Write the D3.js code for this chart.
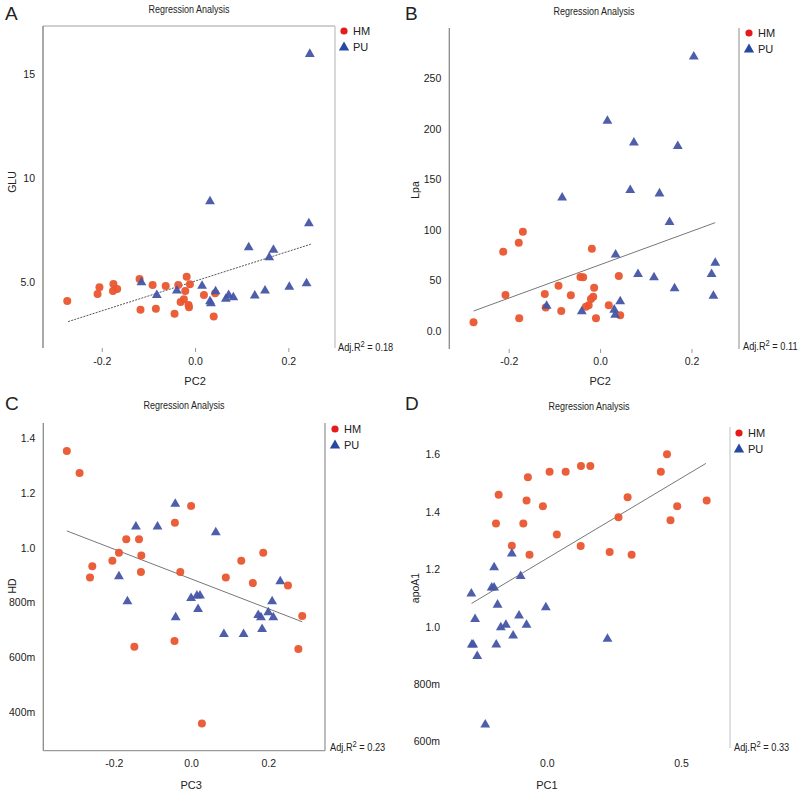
<!DOCTYPE html>
<html><head><meta charset="utf-8">
<script src="https://cdn.jsdelivr.net/npm/d3@7"></script>
<style>body{margin:0;background:#fff}svg{display:block}text{font-family:"Liberation Sans",Arial,sans-serif;fill:#222}</style>
</head><body>
<svg id="c" width="800" height="793"></svg>
<script>
// ---------- DATA ----------
const groups = ["HM", "PU"];
// Panel A: PC2 vs GLU
const aHM_x = [-0.274,-0.209,-0.205,-0.175,-0.176,-0.167,-0.119,-0.117,-0.091,-0.084,-0.063,-0.044,-0.036,-0.031,-0.024,-0.021,-0.018,-0.014,-0.013,-0.011,0.019,0.040,0.043];
const aHM_y = [4.07,4.41,4.73,4.89,4.55,4.65,5.13,3.65,4.84,3.70,4.79,3.46,4.84,4.02,4.15,4.55,5.23,3.88,3.77,4.87,4.36,3.32,4.44];
const aPU_x = [0.246,0.032,0.244,0.115,0.168,0.159,-0.115,-0.082,-0.039,0.015,0.044,0.032,0.034,0.066,0.072,0.082,0.128,0.150,0.202,0.239];
const aPU_y = [15.98,8.89,7.84,6.68,6.56,6.20,5.00,4.39,4.60,4.83,4.57,4.09,3.99,4.21,4.39,4.28,4.36,4.60,4.79,4.95];
const aFit = [-0.272, 3.08, 0.248, 6.80];
const aXTicks = [-0.2, 0.0, 0.2], aXLabels = ["-0.2","0.0","0.2"];
const aYTicks = [5, 10, 15], aYLabels = ["5.0","10","15"];
// Panel B: PC2 vs Lpa
const bHM_x = [-0.277,-0.212,-0.207,-0.178,-0.169,-0.177,-0.121,-0.119,-0.091,-0.085,-0.064,-0.043,-0.037,-0.018,-0.013,-0.015,-0.020,-0.025,-0.031,-0.009,0.019,0.041,0.044];
const bHM_y = [8.3,78.2,35.3,87.1,98,12.3,36.3,23.1,44.6,19.5,35,53.2,52.9,81.2,42.6,33.7,31.4,25.1,23.8,12.3,25.1,54.2,15.2];
const bPU_x = [0.205,0.016,0.074,0.170,-0.083,0.066,0.130,0.152,0.034,0.252,0.083,0.118,0.244,0.163,0.248,0.044,-0.117,0.031,-0.040,0.033];
const bPU_y = [272,208.6,187,183.5,132.5,140,136.6,108.3,76,68,56.8,53.5,56.8,42.6,35.3,29.7,25.4,21.5,19.8,16.5];
const bFit = [-0.277, 19.5, 0.252, 107];
const bXTicks = [-0.2, 0.0, 0.2], bXLabels = ["-0.2","0.0","0.2"];
const bYTicks = [0, 50, 100, 150, 200, 250], bYLabels = ["0.0","50","100","150","200","250"];
// Panel C: PC3 vs HD
const cHM_x = [-0.322,-0.289,-0.262,-0.256,-0.204,-0.187,-0.168,-0.135,-0.129,-0.130,-0.042,-0.028,0.000,0.090,0.130,0.160,0.187,0.251,0.288,0.278,-0.147,-0.043,0.028];
const cHM_y = [1.352,1.272,0.891,0.932,0.952,0.981,1.031,1.031,0.971,0.911,1.091,0.911,1.152,0.891,0.952,0.871,0.981,0.862,0.751,0.631,0.639,0.660,0.360];
const cPU_x = [-0.041,-0.143,-0.087,0.064,-0.187,0.231,-0.165,0.000,0.015,0.023,0.018,-0.040,0.210,0.174,0.181,0.200,0.213,0.184,0.085,0.136];
const cPU_y = [1.162,1.079,1.079,1.058,0.898,0.880,0.807,0.819,0.828,0.828,0.779,0.749,0.807,0.757,0.749,0.767,0.749,0.706,0.688,0.688];
const cFit = [-0.322, 1.061, 0.288, 0.730];
const cXTicks = [-0.2, 0.0, 0.2], cXLabels = ["-0.2","0.0","0.2"];
const cYTicks = [0.4, 0.6, 0.8, 1.0, 1.2, 1.4], cYLabels = ["400m","600m","800m","1.0","1.2","1.4"];
// Panel D: PC1 vs apoA1
const dHM_x = [0.448,0.425,0.162,0.127,0.070,0.010,-0.071,-0.180,-0.076,-0.015,0.301,0.596,0.486,0.461,0.267,-0.190,-0.088,0.037,-0.131,0.126,-0.065,0.234,0.316];
const dHM_y = [1.601,1.540,1.560,1.560,1.540,1.540,1.521,1.460,1.440,1.420,1.451,1.440,1.420,1.371,1.381,1.360,1.360,1.321,1.282,1.281,1.251,1.260,1.251];
const dPU_x = [-0.131,-0.197,-0.098,-0.282,-0.206,-0.197,-0.184,-0.004,-0.268,-0.104,-0.153,-0.172,-0.076,-0.126,-0.280,-0.275,-0.189,-0.260,0.226,-0.230];
const dPU_y = [1.257,1.209,1.179,1.118,1.139,1.139,1.079,1.070,1.029,1.041,1.009,1.000,1.009,0.971,0.940,0.940,0.940,0.900,0.960,0.661];
const dFit = [-0.281, 1.081, 0.593, 1.569];
const dXTicks = [0.0, 0.5], dXLabels = ["0.0","0.5"];
const dYTicks = [0.6, 0.8, 1.0, 1.2, 1.4, 1.6], dYLabels = ["600m","800m","1.0","1.2","1.4","1.6"];
const r2Labels = ["0.18", "0.11", "0.23", "0.33"];
const xTitles = ["PC2", "PC2", "PC3", "PC1"];
const yTitles = ["GLU", "Lpa", "HD", "apoA1"];
const letters = ["A", "B", "C", "D"];
const chartTitle = "Regression Analysis";

// ---------- LAYOUT ----------
const svg = d3.select("#c");
const HM_COLOR = "#e9552f", PU_COLOR = "#4455a6";
const panels = [
  {ox:0, oy:0, L:43, R:335, T:26, B:348, xd:[-0.326,0.300], yd:[1.81,17.29],
   hx:aHM_x, hy:aHM_y, px:aPU_x, py:aPU_y, fit:aFit, xt:aXTicks, xl:aXLabels, yt:aYTicks, yl:aYLabels,
   frame:{left:"#7a7a7a", top:"#a0a0a0", right:"#c4c4c4"}, dash:"2,1.2", xtick:4,
   titleX:189, titleY:13, legX:344, legY:31, yTitleX:12, yTitleY:182, xTitleY:385, r2X:338, r2Y:351, tickY:366},
  {ox:400, oy:0, L:449.3, R:739, T:28, B:349, xd:[-0.330,0.304], yd:[-18.1,299.7],
   hx:bHM_x, hy:bHM_y, px:bPU_x, py:bPU_y, fit:bFit, xt:bXTicks, xl:bXLabels, yt:bYTicks, yl:bYLabels,
   frame:{left:"#8a8a8a", right:"#a8a8a8"}, dash:null, xtick:4,
   titleX:594, titleY:15, legX:749, legY:33, yTitleX:415, yTitleY:190, xTitleY:385, r2X:743, r2Y:350, tickY:366},
  {ox:0, oy:390, L:43.3, R:325, T:423, B:750.7, xd:[-0.383,0.347], yd:[0.2605,1.454],
   hx:cHM_x, hy:cHM_y, px:cPU_x, py:cPU_y, fit:cFit, xt:cXTicks, xl:cXLabels, yt:cYTicks, yl:cYLabels,
   frame:{left:"#8a8a8a", right:"#9a9a9a", bottom:"#9a9a9a"}, dash:null, xtick:0,
   titleX:184, titleY:409, legX:335, legY:429, yTitleX:12, yTitleY:586, xTitleY:789, r2X:330, r2Y:751, tickY:768},
  {ox:400, oy:390, L:448, R:730, T:427, B:748, xd:[-0.369,0.683], yd:[0.577,1.696],
   hx:dHM_x, hy:dHM_y, px:dPU_x, py:dPU_y, fit:dFit, xt:dXTicks, xl:dXLabels, yt:dYTicks, yl:dYLabels,
   frame:{right:"#cfcfcf"}, dash:null, xtick:0,
   titleX:589, titleY:410, legX:739, legY:433, yTitleX:415, yTitleY:588, xTitleY:789, r2X:734, r2Y:751, tickY:768}
];

const tri = d3.symbol().type(d3.symbolTriangle).size(42);
const triLeg = d3.symbol().type(d3.symbolTriangle).size(46);

panels.forEach((p, i) => {
  const g = svg.append("g");
  const x = d3.scaleLinear().domain(p.xd).range([p.L, p.R]);
  const y = d3.scaleLinear().domain(p.yd).range([p.B, p.T]);

  // letter
  g.append("text").attr("x", p.ox + 5).attr("y", p.oy + 20).attr("font-size", 19).text(letters[i]);
  // title
  g.append("text").attr("x", p.titleX).attr("y", p.titleY).attr("text-anchor","middle")
    .attr("font-size", 10.5).attr("textLength", 81).attr("lengthAdjust","spacingAndGlyphs").text(chartTitle);

  // frame lines
  const f = p.frame;
  if (f.left) g.append("line").attr("x1",p.L).attr("x2",p.L).attr("y1",p.T).attr("y2",p.B).attr("stroke",f.left).attr("stroke-width",1.3);
  if (f.top) g.append("line").attr("x1",p.L).attr("x2",p.R).attr("y1",p.T).attr("y2",p.T).attr("stroke",f.top).attr("stroke-width",1);
  if (f.right) g.append("line").attr("x1",p.R).attr("x2",p.R).attr("y1",p.T).attr("y2",p.B).attr("stroke",f.right).attr("stroke-width",1.3);
  if (f.bottom) g.append("line").attr("x1",p.L).attr("x2",p.R).attr("y1",p.B).attr("y2",p.B).attr("stroke",f.bottom).attr("stroke-width",1.3);

  // y axis
  const ya = g.append("g").attr("transform", `translate(${p.L},0)`)
    .call(d3.axisLeft(y).tickValues(p.yt).tickFormat((d, k) => p.yl[k]).tickSize(0).tickPadding(8));
  ya.select(".domain").remove();
  ya.selectAll("text").attr("font-size", 10.5).attr("font-family","Liberation Sans, Arial, sans-serif").attr("fill","#222");

  // x axis
  const xa = g.append("g").attr("transform", `translate(0,${p.B})`)
    .call(d3.axisBottom(x).tickValues(p.xt).tickFormat((d, k) => p.xl[k]).tickSize(p.xtick).tickPadding(p.tickY - p.B - 8 - p.xtick));
  xa.select(".domain").remove();
  xa.selectAll("line").attr("stroke", "#999");
  xa.selectAll("text").attr("font-size", 10.5).attr("font-family","Liberation Sans, Arial, sans-serif").attr("fill","#222");

  // axis titles
  g.append("text").attr("x", x(0)).attr("y", p.xTitleY)
    .attr("text-anchor","middle").attr("font-size", 11).text(xTitles[i]);
  g.append("text").attr("transform", `translate(${p.yTitleX},${p.yTitleY}) rotate(-90)`)
    .attr("text-anchor","middle").attr("dy","0.35em").attr("font-size", 10.5).text(yTitles[i]);

  // regression line
  const ln = g.append("line")
    .attr("x1", x(p.fit[0])).attr("y1", y(p.fit[1]))
    .attr("x2", x(p.fit[2])).attr("y2", y(p.fit[3]))
    .attr("stroke", "#777").attr("stroke-width", 1);
  if (p.dash) ln.attr("stroke-dasharray", p.dash).attr("stroke","#555");

  // HM circles
  g.selectAll(null).data(d3.zip(p.hx, p.hy)).join("circle")
    .attr("cx", d => x(d[0])).attr("cy", d => y(d[1])).attr("r", 4)
    .attr("fill", HM_COLOR).attr("fill-opacity", 0.95);
  // PU triangles
  g.selectAll(null).data(d3.zip(p.px, p.py)).join("path")
    .attr("d", tri).attr("transform", d => `translate(${x(d[0])},${y(d[1]) + 0.8})`)
    .attr("fill", PU_COLOR).attr("fill-opacity", 0.95);

  // legend
  g.append("circle").attr("cx", p.legX).attr("cy", p.legY).attr("r", 3.6).attr("fill", "#e41a1c");
  g.append("text").attr("x", p.legX + 9).attr("y", p.legY).attr("dy","0.36em").attr("font-size", 11).text(groups[0]);
  g.append("path").attr("d", triLeg).attr("transform", `translate(${p.legX},${p.legY + 16.5})`).attr("fill", "#2748a0");
  g.append("text").attr("x", p.legX + 9).attr("y", p.legY + 16).attr("dy","0.36em").attr("font-size", 11).text(groups[1]);

  // adj R2 (horizontally condensed like the original)
  const t = g.append("text").attr("transform", `translate(${p.r2X},${p.r2Y}) scale(0.84,1)`).attr("font-size", 11);
  t.append("tspan").text("Adj.R");
  t.append("tspan").attr("dy", -4.5).attr("font-size", 9).text("2");
  t.append("tspan").attr("dy", 4.5).text(" = " + r2Labels[i]);
});
</script>
</body></html>
